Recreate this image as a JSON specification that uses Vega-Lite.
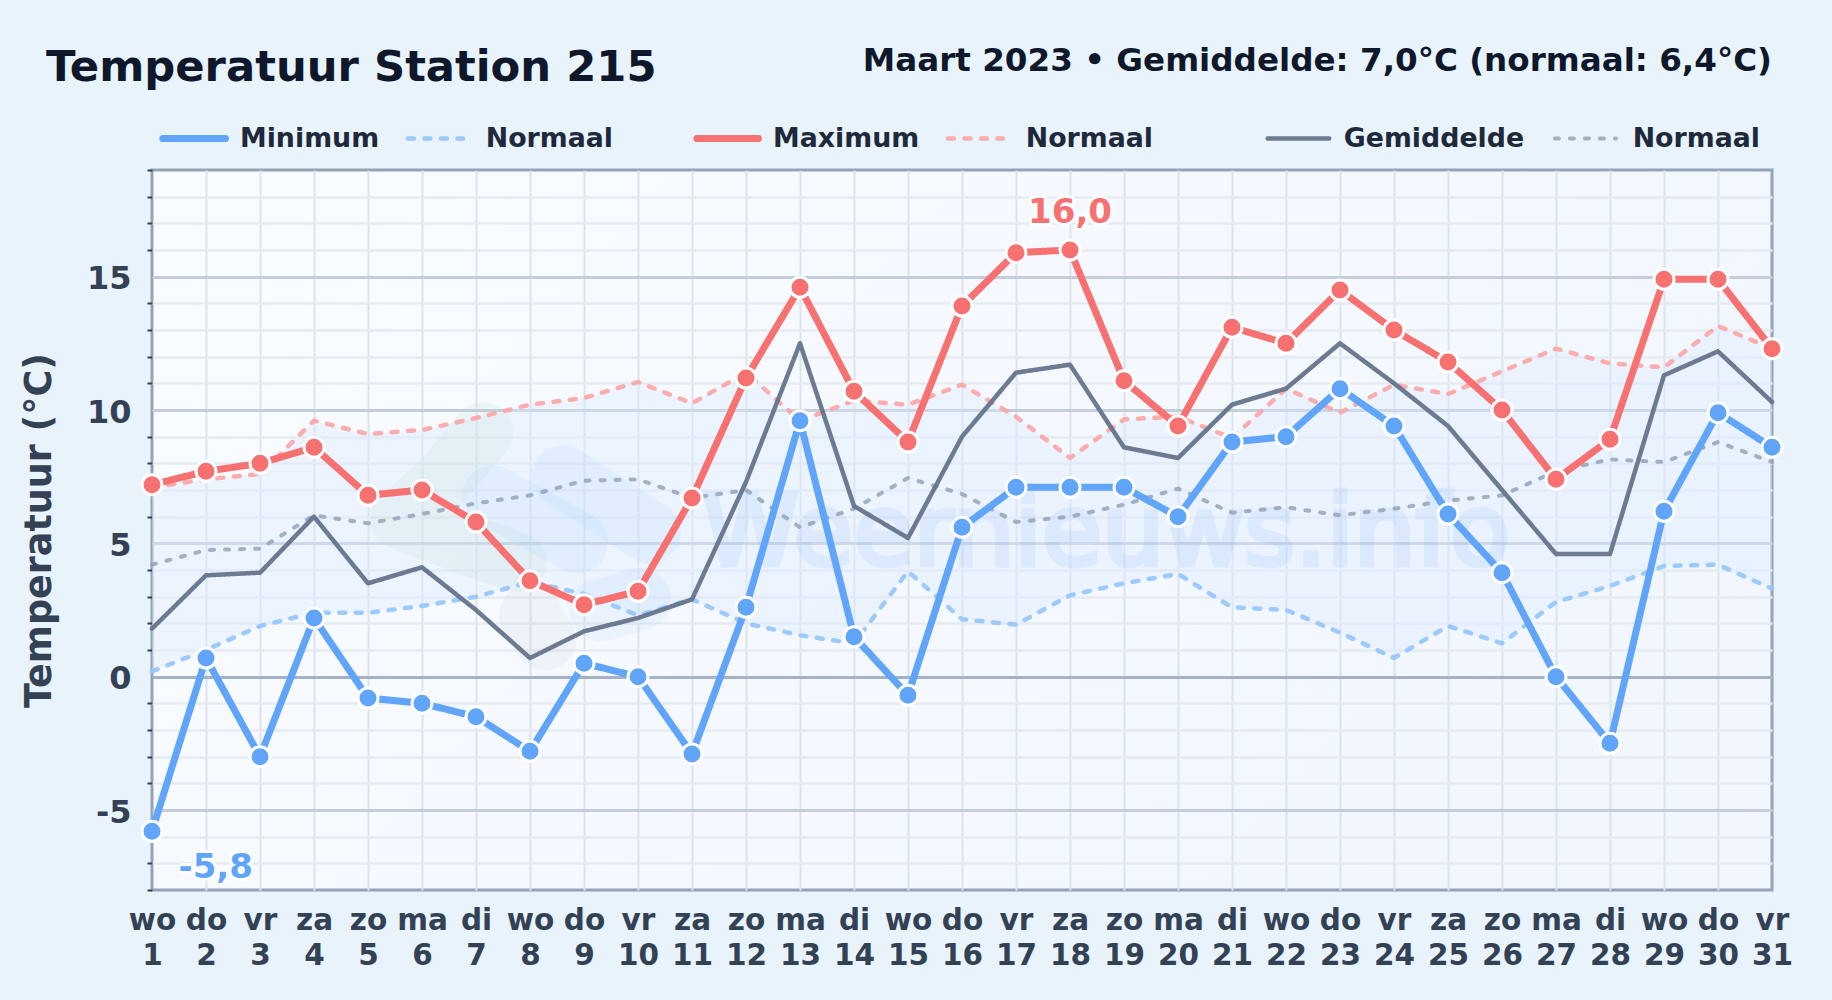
{
"$schema":"https://vega.github.io/schema/vega-lite/v6.json",
"width":1620,"height":720,
"autosize":{"type":"none"},
"padding":{"left":152,"top":170,"right":60,"bottom":110},
"background":"#e8f3fc",
"view":{"fill":{"gradient":"linear","x1":0,"y1":0,"x2":1,"y2":0.4,"stops":[{"offset":0,"color":"#f9fcff"},{"offset":1,"color":"#f2f7ff"}]},"stroke":"#94a3b8","strokeWidth":3},
"datasets":{
"days":[
{"day":1,"min":-5.8,"max":7.2,"avg":1.8,"nmin":0.2,"nmax":7.1,"navg":4.2},
{"day":2,"min":0.7,"max":7.7,"avg":3.8,"nmin":1.0,"nmax":7.4,"navg":4.75},
{"day":3,"min":-3.0,"max":8.0,"avg":3.9,"nmin":1.9,"nmax":7.6,"navg":4.8},
{"day":4,"min":2.2,"max":8.6,"avg":6.0,"nmin":2.4,"nmax":9.6,"navg":6.05},
{"day":5,"min":-0.8,"max":6.8,"avg":3.5,"nmin":2.4,"nmax":9.1,"navg":5.75},
{"day":6,"min":-1.0,"max":7.0,"avg":4.1,"nmin":2.65,"nmax":9.25,"navg":6.1},
{"day":7,"min":-1.5,"max":5.8,"avg":2.5,"nmin":3.0,"nmax":9.7,"navg":6.5},
{"day":8,"min":-2.8,"max":3.6,"avg":0.7,"nmin":3.55,"nmax":10.2,"navg":6.8},
{"day":9,"min":0.5,"max":2.7,"avg":1.7,"nmin":3.1,"nmax":10.45,"navg":7.35},
{"day":10,"min":0.0,"max":3.2,"avg":2.2,"nmin":2.3,"nmax":11.05,"navg":7.4},
{"day":11,"min":-2.9,"max":6.7,"avg":2.9,"nmin":2.9,"nmax":10.25,"navg":6.7},
{"day":12,"min":2.6,"max":11.2,"avg":7.3,"nmin":2.0,"nmax":11.4,"navg":7.0},
{"day":13,"min":9.6,"max":14.6,"avg":12.5,"nmin":1.55,"nmax":9.6,"navg":5.6},
{"day":14,"min":1.5,"max":10.7,"avg":6.4,"nmin":1.25,"nmax":10.35,"navg":6.3},
{"day":15,"min":-0.7,"max":8.8,"avg":5.2,"nmin":3.95,"nmax":10.2,"navg":7.45},
{"day":16,"min":5.6,"max":13.9,"avg":9.0,"nmin":2.15,"nmax":10.95,"navg":6.85},
{"day":17,"min":7.1,"max":15.9,"avg":11.4,"nmin":1.95,"nmax":9.75,"navg":5.8},
{"day":18,"min":7.1,"max":16.0,"avg":11.7,"nmin":3.05,"nmax":8.2,"navg":6.0},
{"day":19,"min":7.1,"max":11.1,"avg":8.6,"nmin":3.5,"nmax":9.65,"navg":6.45},
{"day":20,"min":6.0,"max":9.4,"avg":8.2,"nmin":3.85,"nmax":9.75,"navg":7.05},
{"day":21,"min":8.8,"max":13.1,"avg":10.2,"nmin":2.6,"nmax":8.95,"navg":6.15},
{"day":22,"min":9.0,"max":12.5,"avg":10.8,"nmin":2.5,"nmax":10.8,"navg":6.35},
{"day":23,"min":10.8,"max":14.5,"avg":12.5,"nmin":1.65,"nmax":9.9,"navg":6.05},
{"day":24,"min":9.4,"max":13.0,"avg":11.0,"nmin":0.7,"nmax":10.95,"navg":6.3},
{"day":25,"min":6.1,"max":11.8,"avg":9.4,"nmin":1.9,"nmax":10.6,"navg":6.6},
{"day":26,"min":3.9,"max":10.0,"avg":7.0,"nmin":1.25,"nmax":11.45,"navg":6.8},
{"day":27,"min":0.0,"max":7.4,"avg":4.6,"nmin":2.8,"nmax":12.3,"navg":7.7},
{"day":28,"min":-2.5,"max":8.9,"avg":4.6,"nmin":3.4,"nmax":11.75,"navg":8.15},
{"day":29,"min":6.2,"max":14.9,"avg":11.3,"nmin":4.15,"nmax":11.6,"navg":8.05},
{"day":30,"min":9.9,"max":14.9,"avg":12.2,"nmin":4.2,"nmax":13.15,"navg":8.8},
{"day":31,"min":8.6,"max":12.3,"avg":10.3,"nmin":3.3,"nmax":12.3,"navg":8.05}
],
"legend":[
{"series":"min","x":1.2,"x2":2.36,"tx":2.63,"y":20.18,"label":"Minimum"},
{"series":"nmin","x":5.74,"x2":6.76,"tx":7.18,"y":20.18,"label":"Normaal"},
{"series":"max","x":11.09,"x2":12.23,"tx":12.5,"y":20.18,"label":"Maximum"},
{"series":"nmax","x":15.74,"x2":16.76,"tx":17.18,"y":20.18,"label":"Normaal"},
{"series":"avg","x":21.66,"x2":22.8,"tx":23.07,"y":20.18,"label":"Gemiddelde"},
{"series":"navg","x":26.98,"x2":28.11,"tx":28.42,"y":20.18,"label":"Normaal"}
],
"extremes":[
{"series":"max","day":18,"v":17.4,"label":"16,0"},
{"series":"min","day":2.18,"v":-7.19,"label":"-5,8"}
],
"logo":[
{"part":"g","day":7.13,"v":9.16},{"part":"g","day":6.4,"v":7.4},{"part":"g","day":5.6,"v":5.9},{"part":"g","day":6.9,"v":4.9},{"part":"g","day":7.76,"v":4.3},
{"part":"b","day":7.31,"v":6.76},{"part":"b","day":8.87,"v":5.04},
{"part":"c","day":8.61,"v":7.51},{"part":"c","day":10.22,"v":5.41},
{"part":"d","day":8.0,"v":2.3},{"part":"d","day":8.28,"v":1.4},
{"part":"e","day":9.3,"v":2.5},{"part":"e","day":10.04,"v":2.9}
]
},
"layer":[
{"data":{"name":"days"},
 "mark":{"type":"area","color":"#dbeafe","opacity":0.4},
 "encoding":{
  "x":{"field":"day","type":"quantitative","scale":{"domain":[1,31],"nice":false,"zero":false},
   "axis":{"values":[1,2,3,4,5,6,7,8,9,10,11,12,13,14,15,16,17,18,19,20,21,22,23,24,25,26,27,28,29,30,31],"tickCount":40,"title":null,"domain":false,"ticks":false,"grid":true,
    "gridColor":{"condition":{"test":"datum.value===1||datum.value===31","value":"transparent"},"value":"#dde3ec"},
    "gridWidth":2,"labelFont":"DejaVu Sans","labelFontWeight":"bold","labelFontSize":29.5,"labelColor":"#334155","labelPadding":16,"labelLineHeight":35,"labelOverlap":false,"labelFlush":false,"labelBound":false,"labelBaseline":"top","labelExpr":"[['wo','do','vr','za','zo','ma','di'][(datum.value-1)%7], ''+datum.value]"}},
  "y":{"field":"nmin","type":"quantitative","scale":{"domain":[-8,19],"nice":false,"zero":false},
   "axis":{"values":[-8,-7,-6,-5,-4,-3,-2,-1,0,1,2,3,4,5,6,7,8,9,10,11,12,13,14,15,16,17,18,19],"tickCount":40,"title":"Temperatuur (°C)","titleFont":"DejaVu Sans","titleFontWeight":"bold","titleFontSize":36.5,"titleColor":"#334155","titleX":-94,"titleAnchor":"middle","domain":false,"grid":true,
    "gridColor":{"condition":[{"test":"datum.value===-8||datum.value===19","value":"transparent"},{"test":"datum.value===0","value":"#a3b2c7"},{"test":"datum.value%5===0","value":"#c3cddc"}],"value":"#e6ebf2"},
    "gridWidth":{"condition":{"test":"datum.value%5===0","value":3},"value":2.5},
    "tickColor":{"condition":{"test":"datum.value%5===0","value":"transparent"},"value":"#334155"},
    "tickSize":5,"tickWidth":2,"labelFont":"DejaVu Sans","labelFontWeight":"bold","labelFontSize":32,"labelColor":"#334155","labelPadding":16,"labelOffset":2,"labelExpr":"datum.value%5===0 ? ''+datum.value : ''","labelOverlap":false}},
  "y2":{"field":"nmax"}
 }},
{"data":{"name":"logo"},"transform":[{"filter":"datum.part==='g'"}],
 "mark":{"type":"line","color":"#bbdcc4","opacity":0.16,"strokeWidth":60,"strokeCap":"round","strokeJoin":"round"},
 "encoding":{"x":{"field":"day","type":"quantitative"},"y":{"field":"v","type":"quantitative"},"order":{"field":"v","type":"quantitative","sort":"descending"}}},
{"data":{"name":"logo"},"transform":[{"filter":"datum.part==='b'||datum.part==='c'||datum.part==='e'"}],
 "mark":{"type":"line","color":"#93c5fd","opacity":0.12,"strokeWidth":62,"strokeCap":"round","strokeJoin":"round"},
 "encoding":{"x":{"field":"day","type":"quantitative"},"y":{"field":"v","type":"quantitative"},"detail":{"field":"part"}}},
{"data":{"name":"logo"},"transform":[{"filter":"datum.part==='d'"}],
 "mark":{"type":"line","color":"#94a3b8","opacity":0.08,"strokeWidth":62,"strokeCap":"round"},
 "encoding":{"x":{"field":"day","type":"quantitative"},"y":{"field":"v","type":"quantitative"}}},
{"data":{"values":[{"day":18.67,"v":4.2,"label":"Weernieuws.info"}]},
 "mark":{"type":"text","font":"DejaVu Sans","fontSize":98,"align":"center","baseline":"alphabetic","color":"#3b82f6","stroke":"#3b82f6","strokeWidth":5,"opacity":0.08},
 "encoding":{"x":{"field":"day","type":"quantitative"},"y":{"field":"v","type":"quantitative"},"text":{"field":"label"}}},
{"data":{"name":"days"},
 "transform":[{"fold":["nmin","nmax","navg","avg","min","max"],"as":["series","v"]}],
 "mark":{"type":"line","strokeCap":"round","strokeJoin":"round","clip":false},
 "encoding":{
  "x":{"field":"day","type":"quantitative"},
  "y":{"field":"v","type":"quantitative"},
  "detail":{"field":"series"},
  "color":{"field":"series","type":"nominal","legend":null,"scale":{"domain":["nmin","nmax","navg","avg","min","max"],"range":["#93c5fd","#fca5a5","#94a3b8","#64748b","#60a5fa","#f87171"]}},
  "strokeDash":{"field":"series","type":"nominal","legend":null,"scale":{"domain":["nmin","nmax","navg","avg","min","max"],"range":[[6,10.5],[6,10.5],[4,11],[1,0],[1,0],[1,0]]}},
  "strokeWidth":{"field":"series","type":"nominal","legend":null,"scale":{"type":"ordinal","domain":["nmin","nmax","navg","avg","min","max"],"range":[4.5,4.5,4,4.5,7,7]}},
  "opacity":{"field":"series","type":"nominal","legend":null,"scale":{"type":"ordinal","domain":["nmin","nmax","navg","avg","min","max"],"range":[0.9,0.9,0.85,0.95,1,1]}}
 }},
{"data":{"name":"days"},
 "transform":[{"fold":["min","max"],"as":["series","v"]}],
 "mark":{"type":"point","filled":true,"opacity":1,"size":400,"stroke":"white","strokeWidth":3,"clip":false},
 "encoding":{
  "x":{"field":"day","type":"quantitative"},
  "y":{"field":"v","type":"quantitative"},
  "color":{"field":"series","type":"nominal","legend":null}
 }},
{"data":{"name":"legend"},
 "mark":{"type":"rule","strokeCap":"round","clip":false},
 "encoding":{
  "x":{"field":"x","type":"quantitative"},
  "x2":{"field":"x2"},
  "y":{"field":"y","type":"quantitative"},
  "color":{"field":"series","type":"nominal","legend":null},
  "strokeDash":{"field":"series","type":"nominal","legend":null},
  "strokeWidth":{"field":"series","type":"nominal","legend":null,"scale":{"type":"ordinal","domain":["nmin","nmax","navg","avg","min","max"],"range":[4.5,4.5,4,4.5,7,7]}},
  "opacity":{"field":"series","type":"nominal","legend":null,"scale":{"type":"ordinal","domain":["nmin","nmax","navg","avg","min","max"],"range":[0.9,0.9,0.85,0.95,1,1]}}
 }},
{"data":{"name":"legend"},
 "mark":{"type":"text","font":"DejaVu Sans","fontWeight":"bold","fontSize":26.8,"align":"left","baseline":"middle","color":"#1e293b","clip":false},
 "encoding":{"x":{"field":"tx","type":"quantitative"},"y":{"field":"y","type":"quantitative"},"text":{"field":"label"}}},
{"data":{"name":"extremes"},
 "mark":{"type":"text","font":"DejaVu Sans","fontWeight":"bold","fontSize":34,"align":"center","baseline":"middle","stroke":"white","strokeWidth":6,"strokeJoin":"round","opacity":0.85,"clip":false},
 "encoding":{"x":{"field":"day","type":"quantitative"},"y":{"field":"v","type":"quantitative"},"text":{"field":"label"}}},
{"data":{"name":"extremes"},
 "mark":{"type":"text","font":"DejaVu Sans","fontWeight":"bold","fontSize":34,"align":"center","baseline":"middle","clip":false},
 "encoding":{"x":{"field":"day","type":"quantitative"},"y":{"field":"v","type":"quantitative"},"text":{"field":"label"},"color":{"field":"series","type":"nominal","legend":null}}},
{"data":{"values":[{"day":-0.963,"v":22.34,"label":"Temperatuur Station 215"}]},
 "mark":{"type":"text","font":"DejaVu Sans","fontWeight":"bold","fontSize":43.3,"align":"left","baseline":"alphabetic","color":"#0f172a","clip":false},
 "encoding":{"x":{"field":"day","type":"quantitative"},"y":{"field":"v","type":"quantitative"},"text":{"field":"label"}}},
{"data":{"values":[{"day":31,"v":22.71,"label":"Maart 2023 • Gemiddelde: 7,0°C (normaal: 6,4°C)"}]},
 "mark":{"type":"text","font":"DejaVu Sans","fontWeight":"bold","fontSize":32.6,"align":"right","baseline":"alphabetic","color":"#0f172a","clip":false},
 "encoding":{"x":{"field":"day","type":"quantitative"},"y":{"field":"v","type":"quantitative"},"text":{"field":"label"}}}
]
}
